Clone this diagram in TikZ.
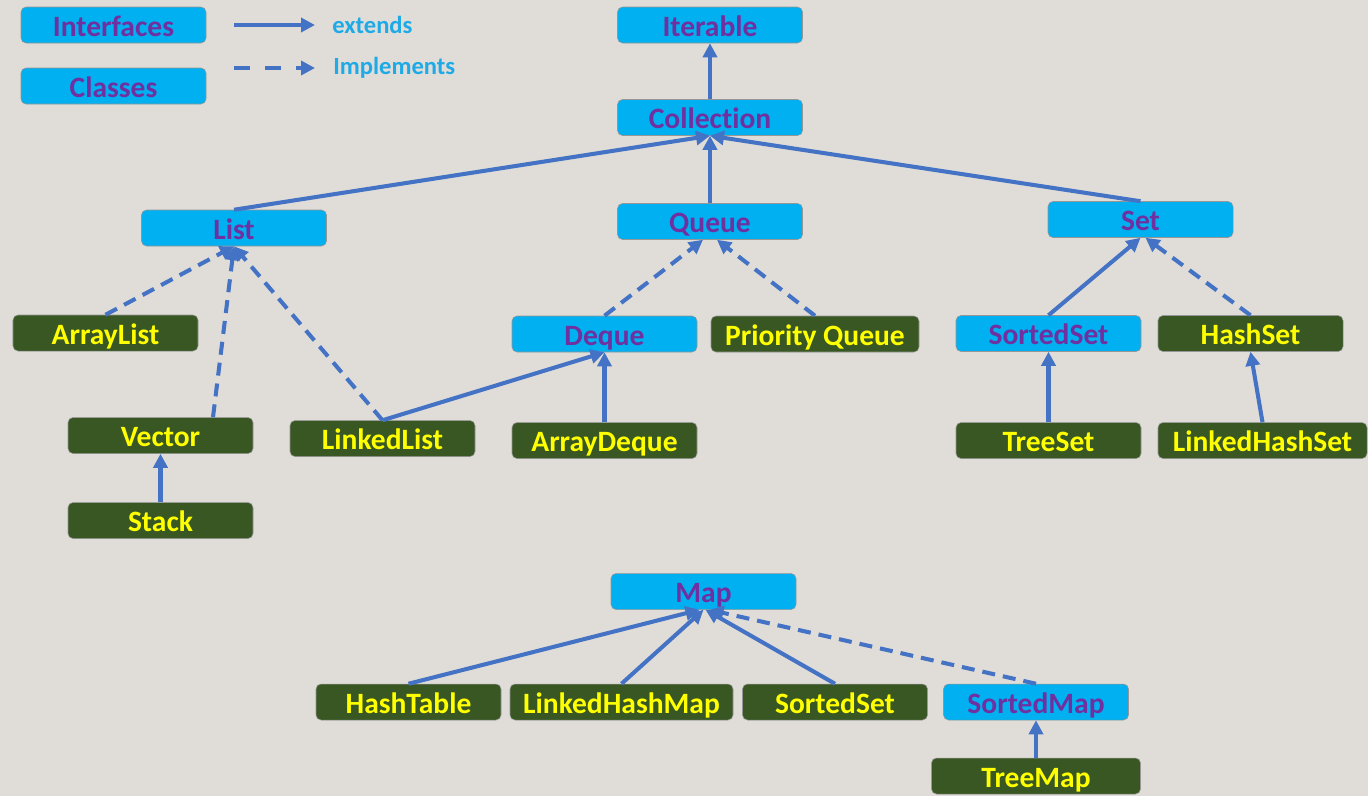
\documentclass[tikz,border=0pt]{standalone}
\usepackage{fontspec}
\setmainfont{Carlito}[Ligatures=NoCommon]
\usetikzlibrary{arrows.meta,positioning}

\definecolor{ifaceblue}{HTML}{00B0F0}
\definecolor{ifacepurple}{HTML}{7030A0}
\definecolor{clsgreen}{HTML}{385723}
\definecolor{clsyellow}{HTML}{FFFF00}
\definecolor{arrowblue}{HTML}{4472C4}
\definecolor{legendblue}{RGB}{30,170,230}
\definecolor{boxline}{RGB}{150,150,150}
\definecolor{bggray}{RGB}{224,221,216}

\tikzstyle{iface} = [rectangle, rounded corners=0.1cm, minimum width=3.7cm, minimum height=0.72cm, text centered, fill=ifaceblue, draw=boxline, line width=0.3pt, text=ifacepurple, font=\fontsize{16.8}{18}\selectfont\bfseries, text height=12.8pt, text depth=0pt]
\tikzstyle{cls} = [iface, fill=clsgreen, text=clsyellow]
\tikzstyle{legend-text} = [inner sep=0pt, text=legendblue, font=\fontsize{14}{16}\selectfont\bfseries]
\tikzstyle{arrow} = [line width=2.3pt, draw=arrowblue, ->, >={Triangle[length=0.28cm,width=0.28cm]}]
\tikzstyle{arrow-dashed} = [arrow, dash pattern=on 0.26cm off 0.16cm]

\begin{document}
\begin{tikzpicture}
  \useasboundingbox (0,0) rectangle (27.36,-15.92);
  \fill [bggray] (0,0) rectangle (27.36,-15.92);

  % collection part
  \node (iterable) [iface] at (14.2,-0.5) {Iterable};
  \node (collection) [iface, below of=iterable, yshift=-0.85cm] {Collection};
  \node (queue) [iface, below of=collection, yshift=-1.08cm] {Queue};
  \node (list) [iface, left of=queue, xshift=-8.52cm, yshift=-0.13cm] {List};
  \node (set) [iface, right of=queue, xshift=7.61cm, yshift=0.04cm] {Set};
  \node (deque) [iface, below of=queue, xshift=-2.11cm, yshift=-1.25cm] {Deque};
  \node (prio) [cls, right of=deque, xshift=3.21cm, minimum width=4.16cm] {Priority Queue};
  \node (arraydeque) [cls, below of=deque, yshift=-1.13cm] {ArrayDeque};
  \node (arraylist) [cls, below of=list, xshift=-2.57cm, yshift=-1.1cm] {ArrayList};
  \node (vector) [cls, below of=arraylist, xshift=1.1cm, yshift=-1.05cm] {Vector};
  \node (stack) [cls, below of=vector, yshift=-0.7cm] {Stack};
  \node (linkedlist) [cls, right of=vector, xshift=3.44cm, yshift=-0.06cm] {LinkedList};
  \node (sortedset) [iface, below of=set, xshift=-1.84cm, yshift=-1.28cm] {SortedSet};
  \node (hashset) [cls, right of=sortedset, xshift=3.04cm] {HashSet};
  \node (treeset) [cls, below of=sortedset, yshift=-1.14cm] {TreeSet};
  \node (linkedhashset) [cls, right of=treeset, xshift=3.28cm, minimum width=4.18cm] {LinkedHashSet};

  % map part
  \node (map) [iface, below of=arraydeque, xshift=1.98cm, yshift=-2.02cm] {Map};
  \node (map-sortedset) [cls, below of=map, xshift=2.63cm, yshift=-1.21cm] {SortedSet};
  \node (linkedhashmap) [cls, left of=map-sortedset, xshift=-3.27cm, minimum width=4.46cm] {LinkedHashMap};
  \node (hashtable) [cls, left of=linkedhashmap, xshift=-3.26cm] {HashTable};
  \node (sortedmap) [iface, right of=map-sortedset, xshift=3.02cm] {SortedMap};
  \node (treemap) [cls, below of=sortedmap, yshift=-0.48cm, minimum width=4.18cm] {TreeMap};

  % legend
  \node (interfaces) [iface, left of=iterable, xshift=-10.93cm] {Interfaces};
  \node (classes) [iface, below of=interfaces, yshift=-0.22cm] {Classes};
  \node (extends) [legend-text, right of=interfaces, xshift=3.37cm, anchor=west] {extends};
  \node (implements) [legend-text, right of=classes, xshift=3.39cm, yshift=0.36cm, anchor=west] {Implements};
  \coordinate [left=0.34cm of extends.west] (extends-head);
  \coordinate [left=1.96cm of extends.west] (extends-tail);
  \coordinate [left=0.36cm of implements.west] (implements-head);
  \coordinate [left=1.98cm of implements.west] (implements-tail);

  \draw [arrow] (extends-tail) -- (extends-head);
  \draw [arrow, dash pattern=on 0.32cm off 0.3cm] (implements-tail) -- (implements-head);

  \draw [arrow] (collection) -- (iterable);
  \draw [arrow] (list.north) -- (collection.south);
  \draw [arrow] (queue) -- (collection);
  \draw [arrow] (set.north) -- (collection.south);
  \draw [arrow-dashed] (arraylist.north) -- (list.south);
  \draw [arrow-dashed] ([xshift=1.05cm]vector.north) -- (list.south);
  \draw [arrow-dashed] (linkedlist.north) -- (list.south);
  \draw [arrow] (stack) -- (vector);
  \draw [arrow] (linkedlist.north) -- (deque.south);
  \draw [arrow] (arraydeque) -- (deque);
  \draw [arrow-dashed] (deque.north) -- ([xshift=-0.14cm]queue.south);
  \draw [arrow-dashed] (prio.north) -- ([xshift=0.14cm]queue.south);
  \draw [arrow] (sortedset.north) -- (set.south);
  \draw [arrow-dashed] (hashset.north) -- ([xshift=0.1cm]set.south);
  \draw [arrow] (treeset) -- (sortedset);
  \draw [arrow] (linkedhashset.north) -- (hashset.south);
  \draw [arrow] (hashtable.north) -- ([xshift=-0.08cm]map.south);
  \draw [arrow] (linkedhashmap.north) -- (map.south);
  \draw [arrow] (map-sortedset.north) -- ([xshift=0.04cm]map.south);
  \draw [arrow-dashed] (sortedmap.north) -- ([xshift=0.12cm]map.south);
  \draw [arrow] (treemap) -- (sortedmap);
\end{tikzpicture}
\end{document}
